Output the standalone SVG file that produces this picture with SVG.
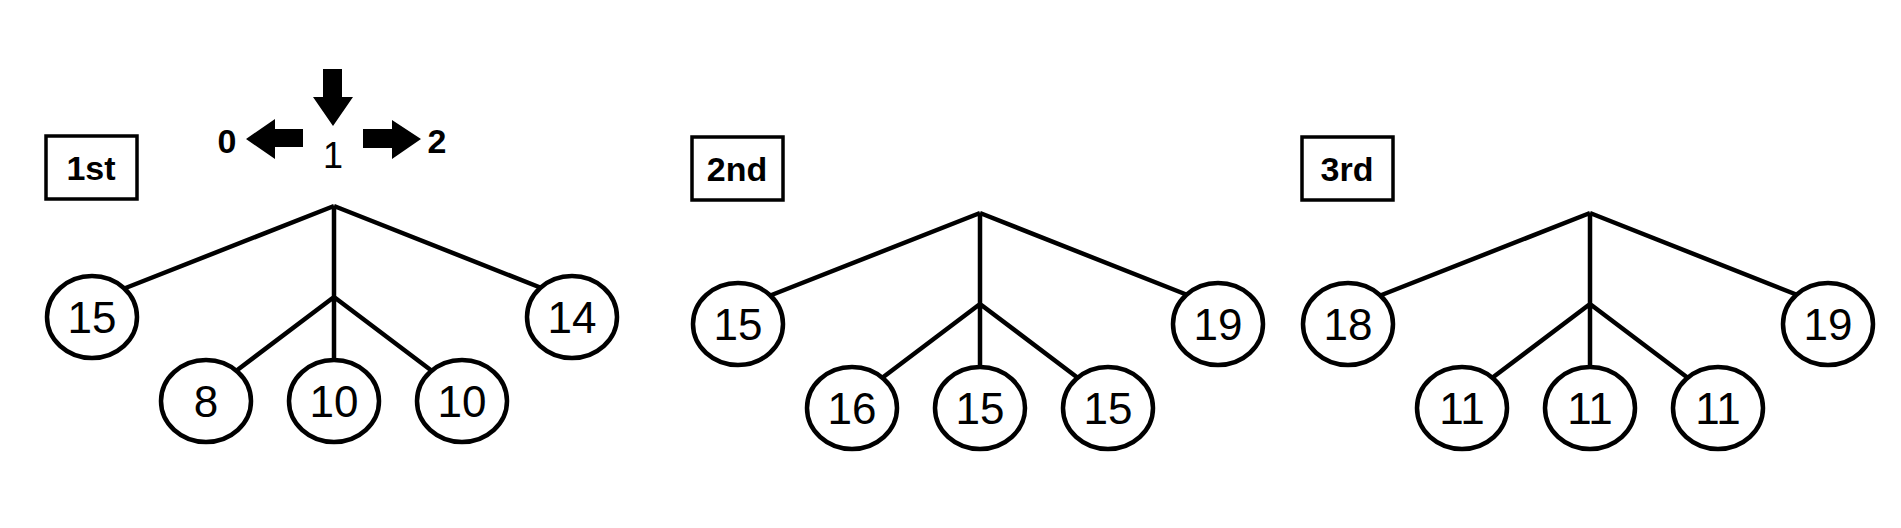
<svg xmlns="http://www.w3.org/2000/svg" width="1901" height="528" viewBox="0 0 1901 528">
<style>
.ln{stroke:#000;stroke-width:4.5;fill:none}
.nd{stroke:#000;stroke-width:4.5;fill:#fff}
.bx{stroke:#000;stroke-width:3.5;fill:#fff}
.t{font-family:"Liberation Sans",Arial,sans-serif;font-size:44px;text-anchor:middle}
.b{font-family:"Liberation Sans",Arial,sans-serif;font-size:34px;font-weight:bold;text-anchor:middle}
</style>
<rect width="1901" height="528" fill="#fff"/>
<defs>
<g id="edges">
<path class="ln" d="M334 206 L123 289 M334 206 L544 289 M334 206 V297 M334 297 L236 371 M334 297 V360 M334 297 L432 371"/>
</g>
</defs>
<g id="legend">
<polygon points="323,69 342,69 342,97 353,97 333,126 313,97 323,97"/>
<polygon points="303,129 275,129 275,119 246,139 275,159 275,147 303,147"/>
<polygon points="363,129 392,129 392,120 421,139 392,159 392,148 363,148"/>
<text class="b" x="227" y="153">0</text>
<text class="t" style="font-size:36px" x="333" y="168">1</text>
<text class="b" x="437" y="153">2</text>
</g>
<g id="connectors">
<use href="#edges"/>
<use href="#edges" transform="translate(646,7)"/>
<use href="#edges" transform="translate(1256,7)"/>
</g>
<g id="tree1">
<g id="box1"><rect class="bx" x="46" y="136" width="91" height="63"/><text class="b" x="91" y="180">1st</text></g>
<g id="n1a"><ellipse class="nd" cx="92" cy="317" rx="45" ry="41"/><text class="t" x="92" y="333">15</text></g>
<g id="n1b"><ellipse class="nd" cx="206" cy="401" rx="45" ry="41"/><text class="t" x="206" y="417">8</text></g>
<g id="n1c"><ellipse class="nd" cx="334" cy="401" rx="45" ry="41"/><text class="t" x="334" y="417">10</text></g>
<g id="n1d"><ellipse class="nd" cx="462" cy="401" rx="45" ry="41"/><text class="t" x="462" y="417">10</text></g>
<g id="n1e"><ellipse class="nd" cx="572" cy="317" rx="45" ry="41"/><text class="t" x="572" y="333">14</text></g>
</g>
<g id="tree2" transform="translate(646,7)">
<g id="box2" transform="translate(0,-6)"><rect class="bx" x="46" y="136" width="91" height="63"/><text class="b" x="91" y="180">2nd</text></g>
<g id="n2a"><ellipse class="nd" cx="92" cy="317" rx="45" ry="41"/><text class="t" x="92" y="333">15</text></g>
<g id="n2b"><ellipse class="nd" cx="206" cy="401" rx="45" ry="41"/><text class="t" x="206" y="417">16</text></g>
<g id="n2c"><ellipse class="nd" cx="334" cy="401" rx="45" ry="41"/><text class="t" x="334" y="417">15</text></g>
<g id="n2d"><ellipse class="nd" cx="462" cy="401" rx="45" ry="41"/><text class="t" x="462" y="417">15</text></g>
<g id="n2e"><ellipse class="nd" cx="572" cy="317" rx="45" ry="41"/><text class="t" x="572" y="333">19</text></g>
</g>
<g id="tree3" transform="translate(1256,7)">
<g id="box3" transform="translate(0,-6)"><rect class="bx" x="46" y="136" width="91" height="63"/><text class="b" x="91" y="180">3rd</text></g>
<g id="n3a"><ellipse class="nd" cx="92" cy="317" rx="45" ry="41"/><text class="t" x="92" y="333">18</text></g>
<g id="n3b"><ellipse class="nd" cx="206" cy="401" rx="45" ry="41"/><text class="t" x="206" y="417">11</text></g>
<g id="n3c"><ellipse class="nd" cx="334" cy="401" rx="45" ry="41"/><text class="t" x="334" y="417">11</text></g>
<g id="n3d"><ellipse class="nd" cx="462" cy="401" rx="45" ry="41"/><text class="t" x="462" y="417">11</text></g>
<g id="n3e"><ellipse class="nd" cx="572" cy="317" rx="45" ry="41"/><text class="t" x="572" y="333">19</text></g>
</g>
</svg>
